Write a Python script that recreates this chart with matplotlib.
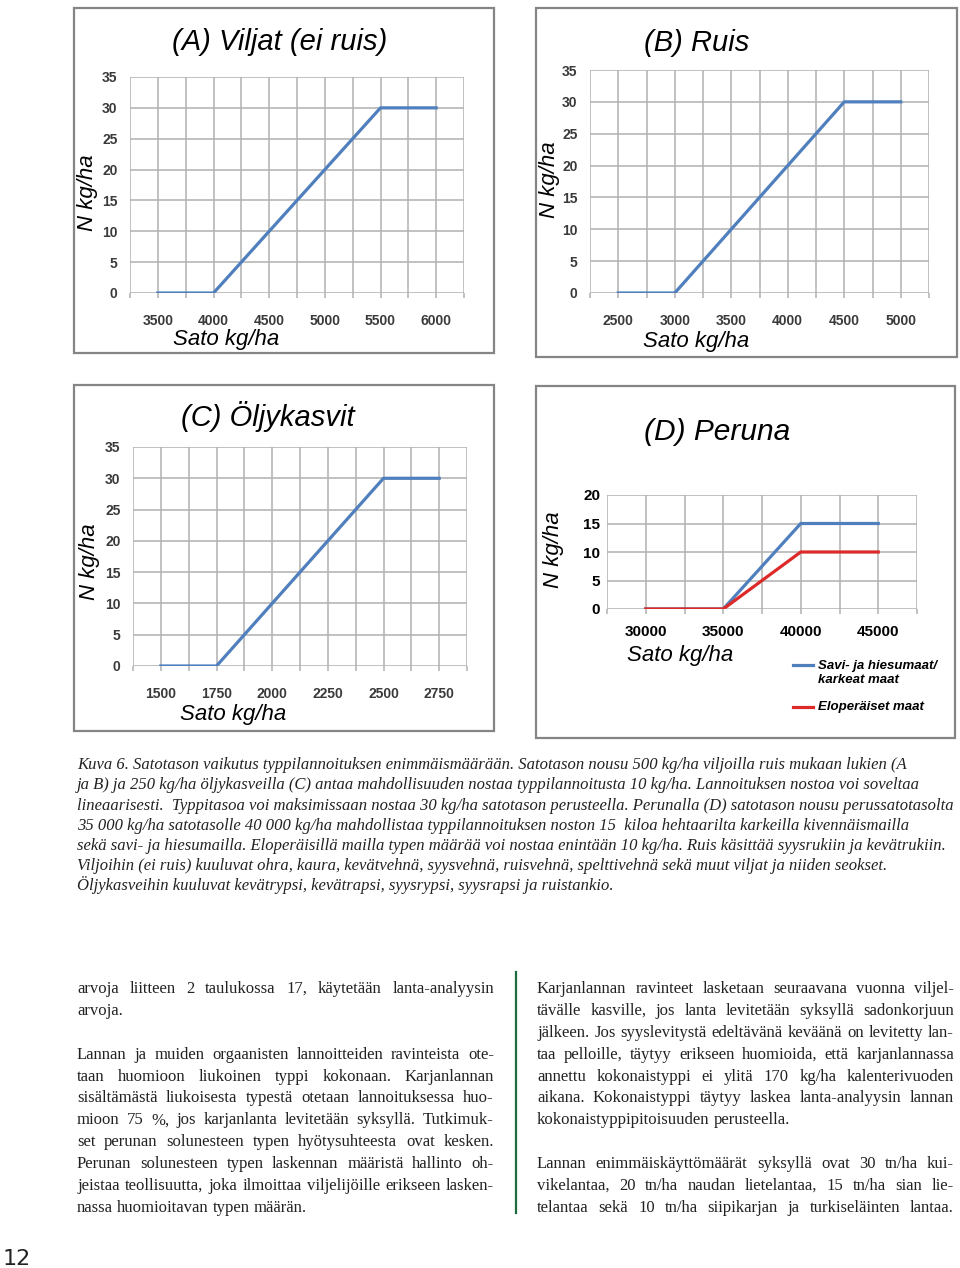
import matplotlib
matplotlib.use('Agg')
import matplotlib.pyplot as plt
from matplotlib.patches import Rectangle
from matplotlib.lines import Line2D
import numpy as np

W, H = 960, 1268

# --- chart data ---
a_sato = [3500, 3750, 4000, 4250, 4500, 4750, 5000, 5250, 5500, 5750, 6000]
a_n = [0, 0, 0, 5, 10, 15, 20, 25, 30, 30, 30]
a_ticks = [3500, 4000, 4500, 5000, 5500, 6000]

b_sato = [2500, 2750, 3000, 3250, 3500, 3750, 4000, 4250, 4500, 4750, 5000]
b_n = [0, 0, 0, 5, 10, 15, 20, 25, 30, 30, 30]
b_ticks = [2500, 3000, 3500, 4000, 4500, 5000]

c_sato = [1500, 1625, 1750, 1875, 2000, 2125, 2250, 2375, 2500, 2625, 2750]
c_n = [0, 0, 0, 5, 10, 15, 20, 25, 30, 30, 30]
c_ticks = [1500, 1750, 2000, 2250, 2500, 2750]

d_sato = [30000, 32500, 35000, 37500, 40000, 42500, 45000]
d_savi = [0, 0, 0, 7.5, 15, 15, 15]
d_elo = [0, 0, 0, 5, 10, 10, 10]
d_ticks = [30000, 35000, 40000, 45000]

d_legend = ["Savi- ja hiesumaat/\nkarkeat maat", "Eloperäiset maat"]

caption = [
    "Kuva 6. Satotason vaikutus typpilannoituksen enimmäismäärään. Satotason nousu 500 kg/ha viljoilla ruis mukaan lukien (A",
    "ja B) ja 250 kg/ha öljykasveilla (C) antaa mahdollisuuden nostaa typpilannoitusta 10 kg/ha. Lannoituksen nostoa voi soveltaa",
    "lineaarisesti.  Typpitasoa voi maksimissaan nostaa 30 kg/ha satotason perusteella. Perunalla (D) satotason nousu perussatotasolta",
    "35 000 kg/ha satotasolle 40 000 kg/ha mahdollistaa typpilannoituksen noston 15  kiloa hehtaarilta karkeilla kivennäismailla",
    "sekä savi- ja hiesumailla. Eloperäisillä mailla typen määrää voi nostaa enintään 10 kg/ha. Ruis käsittää syysrukiin ja kevätrukiin.",
    "Viljoihin (ei ruis) kuuluvat ohra, kaura, kevätvehnä, syysvehnä, ruisvehnä, spelttivehnä sekä muut viljat ja niiden seokset.",
    "Öljykasveihin kuuluvat kevätrypsi, kevätrapsi, syysrypsi, syysrapsi ja ruistankio.",
]

# (text, justified)
left_col = [
    ("arvoja liitteen 2 taulukossa 17, käytetään lanta-analyysin", True),
    ("arvoja.", False),
    ("", False),
    ("Lannan ja muiden orgaanisten lannoitteiden ravinteista ote-", True),
    ("taan huomioon liukoinen typpi kokonaan. Karjanlannan", True),
    ("sisältämästä liukoisesta typestä otetaan lannoituksessa huo-", True),
    ("mioon 75 %, jos karjanlanta levitetään syksyllä. Tutkimuk-", True),
    ("set perunan solunesteen typen hyötysuhteesta ovat kesken.", True),
    ("Perunan solunesteen typen laskennan määristä hallinto oh-", True),
    ("jeistaa teollisuutta, joka ilmoittaa viljelijöille erikseen lasken-", True),
    ("nassa huomioitavan typen määrän.", False),
]
right_col = [
    ("Karjanlannan ravinteet lasketaan seuraavana vuonna viljel-", True),
    ("tävälle kasville, jos lanta levitetään syksyllä sadonkorjuun", True),
    ("jälkeen. Jos syyslevitystä edeltävänä keväänä on levitetty lan-", True),
    ("taa pelloille, täytyy erikseen huomioida, että karjanlannassa", True),
    ("annettu kokonaistyppi ei ylitä 170 kg/ha kalenterivuoden", True),
    ("aikana. Kokonaistyppi täytyy laskea lanta-analyysin lannan", True),
    ("kokonaistyppipitoisuuden perusteella.", False),
    ("", False),
    ("Lannan enimmäiskäyttömäärät syksyllä ovat 30 tn/ha kui-", True),
    ("vikelantaa, 20 tn/ha naudan lietelantaa, 15 tn/ha sian lie-", True),
    ("telantaa sekä 10 tn/ha siipikarjan ja turkiseläinten lantaa.", True),
]

BLUE = '#4f7fbd'
RED = '#dc2a2a'
GRID = '#b0b0b0'
FRAME = '#858585'

fig = plt.figure(figsize=(W / 100, H / 100), dpi=100)
fig.patch.set_facecolor('white')


def T(x, y, s, **kw):
    return fig.text(x / W, 1 - y / H, s, **kw)


def px_axes(l, r, t, b):
    return fig.add_axes([l / W, 1 - b / H, (r - l) / W, (b - t) / H])


def frame(l, r, t, b):
    fig.add_artist(Rectangle((l / W, 1 - b / H), (r - l) / W, (b - t) / H,
                             transform=fig.transFigure, fill=False,
                             edgecolor=FRAME, lw=1.6))


def excel_axes(ax, xlim, step, ticks, ymax, ystep, tickfont, tickcolor, ticksize, xpad, ypad):
    ax.set_xlim(xlim)
    ax.set_ylim(0, ymax)
    ax.set_xticks(ticks)
    ax.set_xticks(np.arange(xlim[0], xlim[1] + 1, step), minor=True)
    ax.set_yticks(np.arange(0, ymax + 1, ystep))
    ax.set_xticklabels([str(t) for t in ticks])
    ax.grid(True, which='both', color=GRID, lw=1.1)
    ax.set_axisbelow(True)
    for s in ax.spines.values():
        s.set_visible(False)
    ax.tick_params(axis='x', which='both', length=3.5, color=GRID, width=1.1, pad=xpad)
    ax.tick_params(axis='y', length=0, pad=ypad)
    for lab in ax.get_xticklabels() + ax.get_yticklabels():
        lab.set_fontfamily(tickfont)
        lab.set_fontweight('bold')
        lab.set_fontsize(ticksize)
        lab.set_color(tickcolor)


lab_kw = dict(family='Liberation Sans', style='italic', color='black')

# ---- (A) ----
frame(74, 494, 8, 353)
ax = px_axes(130, 464, 77, 293)
excel_axes(ax, (3250, 6250), 250, a_ticks, 35, 5, 'Liberation Sans', '#3a3a3a', 10, 11.5, 9)
ax.plot(a_sato, a_n, color=BLUE, lw=2.3)
T(280, 42, "(A) Viljat (ei ruis)", fontsize=21, ha='center', va='center', **lab_kw)
T(88, 193, "N kg/ha", fontsize=16, rotation=90, ha='center', va='center', **lab_kw)
T(226, 339, "Sato kg/ha", fontsize=16, ha='center', va='center', **lab_kw)

# ---- (B) ----
frame(536, 957, 8, 357)
ax = px_axes(590, 929, 70, 293)
excel_axes(ax, (2250, 5250), 250, b_ticks, 35, 5, 'Liberation Sans', '#3a3a3a', 10, 11.5, 9)
ax.plot(b_sato, b_n, color=BLUE, lw=2.3)
T(697, 43, "(B) Ruis", fontsize=21, ha='center', va='center', **lab_kw)
T(550, 180, "N kg/ha", fontsize=16, rotation=90, ha='center', va='center', **lab_kw)
T(696, 341, "Sato kg/ha", fontsize=16, ha='center', va='center', **lab_kw)

# ---- (C) ----
frame(74, 494, 385, 731)
ax = px_axes(133, 467, 447, 666)
excel_axes(ax, (1375, 2875), 125, c_ticks, 35, 5, 'Liberation Sans', '#3a3a3a', 10, 11.5, 9)
ax.plot(c_sato, c_n, color=BLUE, lw=2.3)
T(268, 417, "(C) Öljykasvit", fontsize=21, ha='center', va='center', **lab_kw)
T(90, 562, "N kg/ha", fontsize=16, rotation=90, ha='center', va='center', **lab_kw)
T(233, 714, "Sato kg/ha", fontsize=16, ha='center', va='center', **lab_kw)

# ---- (D) ----
frame(536, 955, 386, 738)
ax = px_axes(607, 917, 495, 609)
excel_axes(ax, (27500, 47500), 2500, d_ticks, 20, 5, 'Liberation Sans', 'black', 11, 8, 5)
ax.plot(d_sato, d_savi, color=BLUE, lw=2.3)
ax.plot(d_sato, d_elo, color=RED, lw=2.3)
T(717, 432, "(D) Peruna", fontsize=21.5, ha='center', va='center', **lab_kw)
T(553, 550, "N kg/ha", fontsize=16, rotation=90, ha='center', va='center', **lab_kw)
T(680, 655, "Sato kg/ha", fontsize=16, ha='center', va='center', **lab_kw)
# legend
fig.add_artist(Line2D([793 / W, 813 / W], [1 - 665 / H] * 2, color=BLUE, lw=2.3))
fig.add_artist(Line2D([793 / W, 813 / W], [1 - 707 / H] * 2, color=RED, lw=2.3))
leg_kw = dict(family='Liberation Sans', style='italic', weight='bold', fontsize=9.5,
              color='black', ha='left', va='center')
T(818, 673, d_legend[0], linespacing=1.25, **leg_kw)
T(818, 707, d_legend[1], **leg_kw)

# ---- caption + body text ----
renderer = fig.canvas.get_renderer()


def measure(s, **kw):
    t = fig.text(0, 0, s, **kw)
    w = t.get_window_extent(renderer).width
    t.remove()
    return w


cap_kw = dict(family='Liberation Serif', style='italic', color='#222222')
cap_size = 12 * 868 / measure(caption[4], fontsize=12, **cap_kw)
cap_base = [769, 789, 810, 830, 850, 870, 890]
for line, yb in zip(caption, cap_base):
    T(77, yb, line, fontsize=cap_size, ha='left', va='baseline', **cap_kw)

body_kw = dict(family='Liberation Serif', color='#222222')
colw = 417
s0 = 12
space0 = measure("n n", fontsize=s0, **body_kw) - measure("nn", fontsize=s0, **body_kw)
ratios = []
for line, just in left_col + right_col:
    if just:
        words = line.split()
        nat = sum(measure(w, fontsize=s0, **body_kw) for w in words) + space0 * (len(words) - 1)
        ratios.append(colw / nat)
body_size = min(12, s0 * min(ratios) * 0.985)
space = space0 * body_size / s0


def draw_col(lines, x0, y0, dy):
    for i, (line, just) in enumerate(lines):
        if not line:
            continue
        yb = y0 + i * dy
        words = line.split()
        widths = [measure(w, fontsize=body_size, **body_kw) for w in words]
        gap = space
        if just and len(words) > 1:
            gap = (colw - sum(widths)) / (len(words) - 1)
        x = x0
        for w, wd in zip(words, widths):
            T(x, yb, w, fontsize=body_size, ha='left', va='baseline', **body_kw)
            x += wd + gap


draw_col(left_col, 77, 993, 21.9)
draw_col(right_col, 537, 993, 21.9)

fig.add_artist(Line2D([516 / W] * 2, [1 - 972 / H, 1 - 1213 / H], color='#1e6b40', lw=1.6))
T(3, 1265, "12", family=['Liberation Sans Narrow', 'DejaVu Sans'], fontsize=16,
  ha='left', va='baseline', color='#222222')

fig.savefig('out.png', dpi=100)
